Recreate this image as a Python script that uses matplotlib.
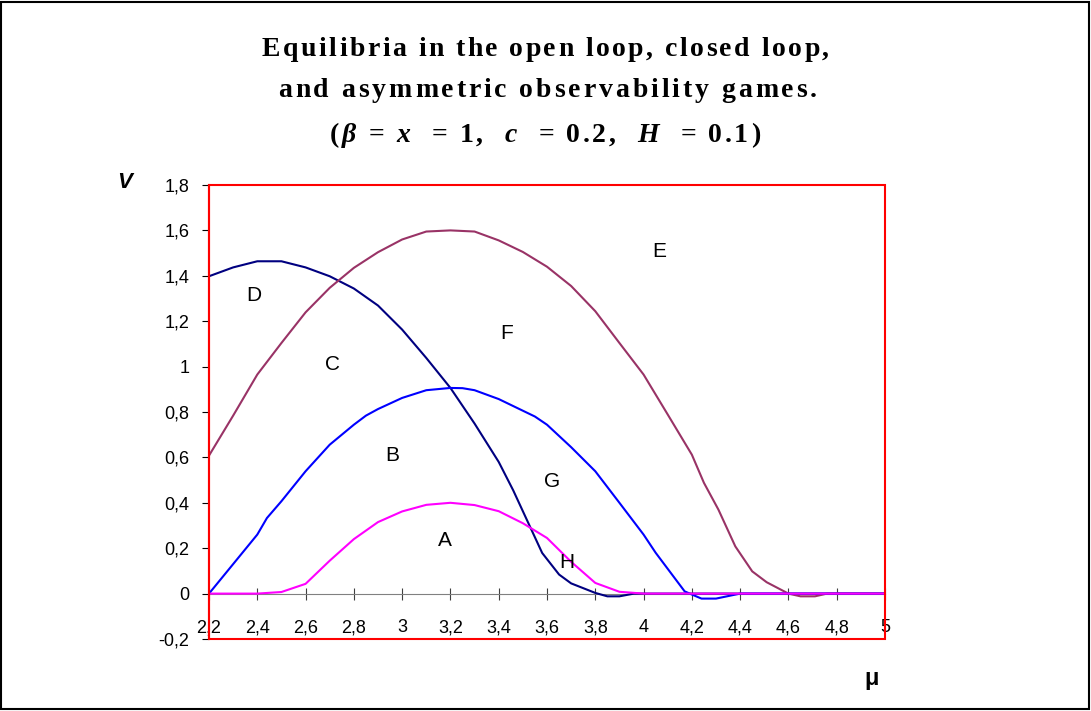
import matplotlib
matplotlib.use("Agg")
import matplotlib.pyplot as plt
from matplotlib.patches import Rectangle

plt.rcParams["font.family"] = ["Liberation Sans", "DejaVu Sans"]

# --- values ---
# A / H curve (magenta)
mu_a = [2.2, 2.3, 2.4, 2.5, 2.6, 2.7, 2.8, 2.9, 3.0, 3.1, 3.2, 3.3, 3.4, 3.5, 3.6,
        3.7, 3.8, 3.9, 4.0, 4.5, 5.0]
v_a = [0, 0, 0, 0.007, 0.043, 0.145, 0.24, 0.315, 0.362, 0.391, 0.4, 0.39, 0.363,
       0.31, 0.245, 0.14, 0.047, 0.008, 0, 0, 0]

# B / G curve (blue)
mu_b = [2.2, 2.3, 2.4, 2.44, 2.5, 2.6, 2.7, 2.8, 2.85, 2.9, 3.0, 3.1, 3.2, 3.25, 3.3,
        3.4, 3.55, 3.6, 3.7, 3.8, 3.9, 4.0, 4.05, 4.17, 4.2, 4.24, 4.3, 4.4, 4.8, 5.0]
v_b = [0, 0.13, 0.26, 0.333, 0.407, 0.539, 0.656, 0.744, 0.784, 0.813, 0.862, 0.896,
       0.906, 0.905, 0.896, 0.857, 0.78, 0.744, 0.645, 0.539, 0.4, 0.26, 0.18, 0.01,
       -0.004, -0.022, -0.022, 0, 0, 0]

# D / H curve (navy)
mu_d = [2.2, 2.3, 2.4, 2.5, 2.6, 2.7, 2.8, 2.9, 3.0, 3.1, 3.2, 3.3, 3.4, 3.46, 3.58,
        3.65, 3.7, 3.8, 3.85, 3.9, 3.96, 4.5, 5.0]
v_d = [1.398, 1.437, 1.464, 1.464, 1.437, 1.398, 1.344, 1.269, 1.163, 1.038, 0.906,
       0.749, 0.58, 0.455, 0.179, 0.084, 0.045, 0.003, -0.012, -0.012, 0, 0, 0]

# C / E / F curve (plum)
mu_e = [2.2, 2.3, 2.4, 2.5, 2.6, 2.7, 2.8, 2.9, 3.0, 3.1, 3.2, 3.3, 3.4, 3.5, 3.6,
        3.7, 3.8, 3.9, 4.0, 4.1, 4.2, 4.25, 4.31, 4.38, 4.45, 4.51, 4.6, 4.65, 4.71,
        4.76, 5.0]
v_e = [0.608, 0.784, 0.965, 1.104, 1.239, 1.347, 1.435, 1.504, 1.56, 1.595, 1.6,
       1.595, 1.556, 1.505, 1.44, 1.355, 1.244, 1.104, 0.965, 0.789, 0.612, 0.488,
       0.37, 0.208, 0.098, 0.05, 0, -0.012, -0.012, 0, 0]

region_labels = ["A", "B", "C", "D", "E", "F", "G", "H"]
label_mu = [3.177, 2.957, 2.712, 2.384, 4.065, 3.433, 3.623, 3.681]
label_v = [0.233, 0.608, 1.009, 1.313, 1.507, 1.145, 0.493, 0.137]

x_ticks = [2.2, 2.4, 2.6, 2.8, 3.0, 3.2, 3.4, 3.6, 3.8, 4.0, 4.2, 4.4, 4.6, 4.8, 5.0]
x_tick_labels = ["2,2", "2,4", "2,6", "2,8", "3", "3,2", "3,4", "3,6", "3,8", "4",
                 "4,2", "4,4", "4,6", "4,8", "5"]
y_ticks = [-0.2, 0, 0.2, 0.4, 0.6, 0.8, 1.0, 1.2, 1.4, 1.6, 1.8]
y_tick_labels = ["-0,2", "0", "0,2", "0,4", "0,6", "0,8", "1", "1,2", "1,4", "1,6", "1,8"]

# title lines; characters in italic_chars of the last line are set italic
title_lines = ["Equilibria in the open loop, closed loop,",
               "and asymmetric observability games.",
               "(β = x  = 1,  c  = 0.2,  H  = 0.1)"]
italic_chars = "βxcH"

W, H = 1091, 711
fig = plt.figure(figsize=(W / 100, H / 100), dpi=100)
ax = fig.add_axes([209 / W, 1 - 639 / H, 676 / W, 454 / H])

ax.plot(mu_d, v_d, color="#000080", lw=1.5, zorder=3)
ax.plot(mu_e, v_e, color="#993366", lw=1.5, zorder=3)
ax.plot(mu_b, v_b, color="#0000FF", lw=1.5, zorder=4)
ax.plot(mu_a, v_a, color="#FF00FF", lw=1.5, zorder=5)

for lab, xm, yv in zip(region_labels, label_mu, label_v):
    ax.text(xm, yv, lab, fontsize=15, ha="center", va="center", zorder=6)

ax.set_xlim(2.2, 5.0)
ax.set_ylim(-0.2, 1.8)

# x axis drawn through zero, red frame around the plot area
for s in ["top", "right"]:
    ax.spines[s].set_visible(False)
ax.spines["bottom"].set_position(("data", 0))
ax.spines["bottom"].set_color("#808080")
ax.spines["bottom"].set_zorder(2)
ax.spines["left"].set_color("#FF0000")
ax.spines["left"].set_linewidth(1.5)
ax.add_patch(Rectangle((0, 0), 1, 1, transform=ax.transAxes, fill=False,
                       edgecolor="#FF0000", lw=1.5, clip_on=False, zorder=7))

ax.set_xticks(x_ticks)
ax.set_xticklabels(x_tick_labels, fontsize=13)
ax.set_yticks(y_ticks)
ax.set_yticklabels(y_tick_labels, fontsize=13)
ax.tick_params(axis="x", direction="inout", length=8.6, color="#404040", pad=14)
ax.tick_params(axis="y", direction="out", length=5, color="black", pad=9)

fig.text(125 / W, 1 - 183 / H, "V", fontsize=16, fontweight="bold",
         fontstyle="italic", ha="center", va="center")
fig.text(872 / W, 1 - 679 / H, "μ", fontsize=17, fontweight="bold",
         ha="center", va="center")

renderer = fig.canvas.get_renderer()


def char_width(ch, style):
    kw = dict(family="Liberation Serif", fontsize=20, fontweight="bold", fontstyle=style)
    if ch == " ":
        a = fig.text(0, 0, "a a", **kw).get_window_extent(renderer).width
        b = fig.text(0, 0, "aa", **kw).get_window_extent(renderer).width
        for t in fig.texts[-2:]:
            t.remove()
        return a - b
    t = fig.text(0, 0, ch, **kw)
    w = t.get_window_extent(renderer).width
    t.remove()
    return w


def spaced_line(s, x_left, x_right, y_base, italics=""):
    # Excel-style letter spacing: spread the characters to fill x_left..x_right
    styles = ["italic" if ch in italics else "normal" for ch in s]
    widths = [char_width(ch, st) for ch, st in zip(s, styles)]
    track = (x_right - x_left - sum(widths)) / (len(s) - 1)
    x = x_left
    for ch, st, w in zip(s, styles, widths):
        if ch != " ":
            fig.text(x / W, 1 - y_base / H, ch, family="Liberation Serif", fontsize=20,
                     fontweight="bold", fontstyle=st, ha="left", va="baseline")
        x += w + track


spaced_line(title_lines[0], 262, 829, 56)
spaced_line(title_lines[1], 278, 817, 97)
spaced_line(title_lines[2], 330, 760, 142, italics=italic_chars)

fig.add_artist(Rectangle((0.001, 0.003), 0.997, 0.994, transform=fig.transFigure,
                         fill=False, edgecolor="black", lw=1.5))

fig.savefig("out.png", dpi=100)
